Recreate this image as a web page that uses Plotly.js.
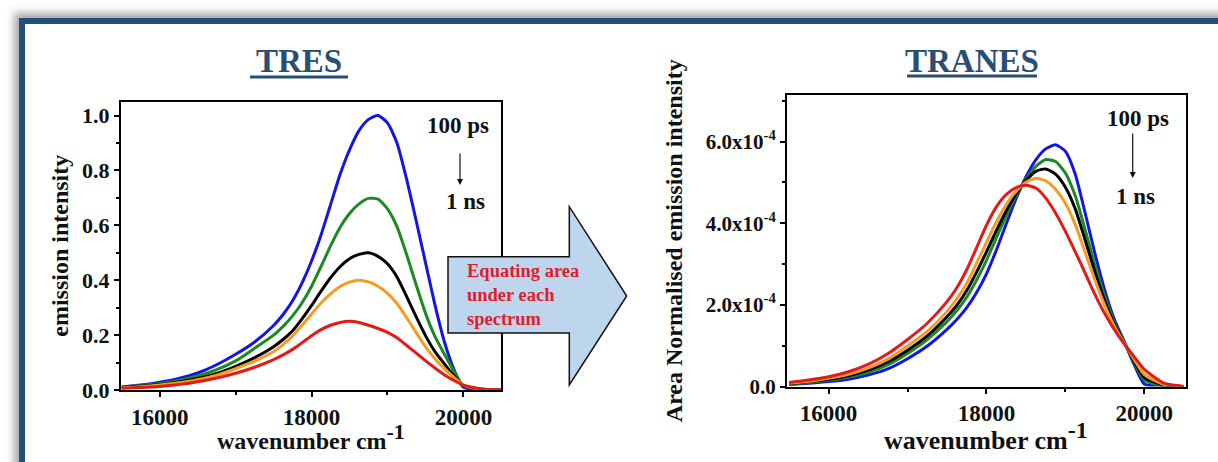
<!DOCTYPE html>
<html>
<head>
<meta charset="utf-8">
<script src="https://cdn.plot.ly/plotly-3.0.1.min.js"></script>
<style>
  html, body { margin: 0; padding: 0; background: #ffffff; }
  #wrap { position: relative; width: 1218px; height: 462px; overflow: hidden; background: #ffffff; }
  #frame {
    position: absolute; left: 19px; top: 18px; width: 1220px; height: 440px;
    border: 6px solid #22507a; background: #ffffff;
    box-shadow: -3px -3px 8px 2px rgba(80, 80, 80, 0.5);
  }
  #chart { position: absolute; left: 0; top: 0; width: 1218px; height: 462px; }
</style>
</head>
<body>
<div id="wrap">
  <div id="frame"></div>
  <div id="chart"></div>
</div>
<script>
// Wavenumber grid (cm^-1) shared by every spectrum, finer around the band maximum
const wavenumber = [15500, 15750, 16000, 16250, 16500, 16750, 17000, 17250, 17500, 17625,
                    17750, 17875, 18000, 18125, 18250, 18375, 18500, 18625, 18750, 18875,
                    19000, 19125, 19250, 19375, 19500, 19625, 19750, 19875, 20000, 20250, 20500];

// Time-resolved emission spectra (TRES), 100 ps -> 1 ns
const tres100ps = [0.011, 0.018, 0.028, 0.042, 0.062, 0.092, 0.130, 0.175, 0.235, 0.275, 0.325, 0.390, 0.470, 0.565, 0.675, 0.785,
                   0.875, 0.945, 0.986, 1.000, 0.973, 0.900, 0.770, 0.620, 0.465, 0.310, 0.175, 0.075, 0.010, 0, 0];
const tresT2    = [0.010, 0.016, 0.024, 0.035, 0.051, 0.074, 0.106, 0.152, 0.200, 0.232, 0.270, 0.318, 0.378, 0.450, 0.525, 0.592,
                   0.643, 0.678, 0.698, 0.695, 0.660, 0.595, 0.495, 0.385, 0.280, 0.195, 0.130, 0.068, 0.015, 0.002, 0];
const tresT3    = [0.009, 0.014, 0.020, 0.029, 0.042, 0.060, 0.086, 0.118, 0.158, 0.184, 0.216, 0.259, 0.308, 0.360, 0.409, 0.449,
                   0.478, 0.494, 0.500, 0.487, 0.460, 0.412, 0.342, 0.268, 0.198, 0.140, 0.095, 0.052, 0.016, 0.003, 0];
const tresT4    = [0.008, 0.012, 0.018, 0.026, 0.037, 0.054, 0.078, 0.105, 0.140, 0.165, 0.197, 0.236, 0.277, 0.317, 0.350, 0.377,
                   0.393, 0.400, 0.394, 0.378, 0.352, 0.315, 0.265, 0.210, 0.158, 0.114, 0.078, 0.046, 0.018, 0.003, 0];
const tres1ns   = [0.006, 0.009, 0.013, 0.020, 0.030, 0.044, 0.061, 0.083, 0.111, 0.128, 0.148, 0.172, 0.198, 0.220, 0.236, 0.246,
                   0.250, 0.246, 0.236, 0.224, 0.210, 0.190, 0.163, 0.135, 0.107, 0.080, 0.055, 0.035, 0.018, 0.004, 0];

// Time-resolved area-normalised emission spectra (TRANES)
const tranes100ps = [0.05e-4, 0.08e-4, 0.12e-4, 0.18e-4, 0.28e-4, 0.43e-4, 0.68e-4, 0.99e-4, 1.40e-4, 1.64e-4, 1.93e-4, 2.30e-4, 2.76e-4, 3.34e-4, 3.98e-4, 4.60e-4,
                     5.13e-4, 5.55e-4, 5.82e-4, 5.92e-4, 5.76e-4, 5.20e-4, 4.25e-4, 3.25e-4, 2.35e-4, 1.62e-4, 1.08e-4, 0.52e-4, 0.06e-4, 0, 0];
const tranesT2    = [0.06e-4, 0.10e-4, 0.15e-4, 0.23e-4, 0.35e-4, 0.53e-4, 0.81e-4, 1.15e-4, 1.59e-4, 1.86e-4, 2.19e-4, 2.61e-4, 3.09e-4, 3.64e-4, 4.18e-4, 4.68e-4,
                     5.07e-4, 5.39e-4, 5.56e-4, 5.51e-4, 5.23e-4, 4.67e-4, 3.84e-4, 2.97e-4, 2.19e-4, 1.55e-4, 1.07e-4, 0.58e-4, 0.16e-4, 0.02e-4, 0];
const tranesT3    = [0.07e-4, 0.12e-4, 0.17e-4, 0.26e-4, 0.40e-4, 0.60e-4, 0.89e-4, 1.24e-4, 1.71e-4, 1.99e-4, 2.35e-4, 2.80e-4, 3.30e-4, 3.82e-4, 4.30e-4, 4.72e-4,
                     5.04e-4, 5.27e-4, 5.33e-4, 5.20e-4, 4.88e-4, 4.35e-4, 3.59e-4, 2.80e-4, 2.09e-4, 1.51e-4, 1.06e-4, 0.61e-4, 0.22e-4, 0.04e-4, 0];
const tranesT4    = [0.08e-4, 0.13e-4, 0.20e-4, 0.30e-4, 0.45e-4, 0.67e-4, 0.99e-4, 1.35e-4, 1.84e-4, 2.15e-4, 2.53e-4, 3.02e-4, 3.53e-4, 4.03e-4, 4.45e-4, 4.78e-4,
                     5.00e-4, 5.10e-4, 5.04e-4, 4.83e-4, 4.49e-4, 3.97e-4, 3.29e-4, 2.60e-4, 1.98e-4, 1.46e-4, 1.05e-4, 0.65e-4, 0.29e-4, 0.05e-4, 0];
const tranes1ns   = [0.10e-4, 0.16e-4, 0.24e-4, 0.36e-4, 0.54e-4, 0.80e-4, 1.15e-4, 1.55e-4, 2.08e-4, 2.42e-4, 2.86e-4, 3.40e-4, 3.95e-4, 4.40e-4, 4.70e-4, 4.87e-4,
                     4.93e-4, 4.86e-4, 4.62e-4, 4.25e-4, 3.80e-4, 3.30e-4, 2.78e-4, 2.25e-4, 1.78e-4, 1.38e-4, 1.03e-4, 0.72e-4, 0.42e-4, 0.08e-4, 0];

// Axis tick labels
const tresTickVals = [0, 0.2, 0.4, 0.6, 0.8, 1.0];
const tresTickText = ['0.0', '0.2', '0.4', '0.6', '0.8', '1.0'];
const tranesTickVals = [0, 2e-4, 4e-4, 6e-4];
const tranesTickText = ['0.0', '2.0x10<sup>-4</sup>', '4.0x10<sup>-4</sup>', '6.0x10<sup>-4</sup>'];
const wnTickVals = [16000, 18000, 20000];
const wnTickText = ['16000', '18000', '20000'];

const seriesColors = ['#1414e6', '#1b8a22', '#000000', '#f59a22', '#e31a1a'];
const tresSeries = [tres100ps, tresT2, tresT3, tresT4, tres1ns];
const tranesSeries = [tranes100ps, tranesT2, tranesT3, tranesT4, tranes1ns];

const W = 1218, H = 462;
const px = v => v / W;            // pixel column -> paper x
const py = v => 1 - v / H;        // pixel row -> paper y
const SERIF = 'Liberation Serif, Times New Roman, serif';

const traces = [];
tresSeries.forEach((ys, i) => traces.push({
  x: wavenumber, y: ys, xaxis: 'x', yaxis: 'y', mode: 'lines', hoverinfo: 'skip',
  line: { color: seriesColors[i], width: 3, shape: 'spline', smoothing: 0.6 }
}));
tranesSeries.forEach((ys, i) => traces.push({
  x: wavenumber, y: ys, xaxis: 'x2', yaxis: 'y2', mode: 'lines', hoverinfo: 'skip',
  line: { color: seriesColors[i], width: 3, shape: 'spline', smoothing: 0.6 }
}));

const tickFont = { family: SERIF, size: 23, color: '#111', weight: 700 };
const titleFont = { family: SERIF, size: 24, color: '#111', weight: 700 };
const bold = (size, color) => ({ family: SERIF, size: size, color: color || '#111', weight: 700 });

function xAxis(anchor, domain, range) {
  return {
    anchor: anchor, domain: domain, range: range,
    tickmode: 'array', tickvals: wnTickVals, ticktext: wnTickText,
    showline: true, mirror: true, linewidth: 2, linecolor: '#000',
    ticks: 'outside', ticklen: 5, tickwidth: 2, tickcolor: '#000',
    minor: { dtick: 1000, tick0: 16000, ticks: 'outside', ticklen: 3, tickwidth: 2, tickcolor: '#000' },
    showgrid: false, zeroline: false, tickfont: tickFont, automargin: false
  };
}
function yAxis(anchor, domain, range, vals, text, minorStep, title, standoff, fontSize) {
  return {
    anchor: anchor, domain: domain, range: range, tickmode: 'array', tickvals: vals, ticktext: text,
    showline: true, mirror: true, linewidth: 2, linecolor: '#000',
    ticks: 'outside', ticklen: 5, tickwidth: 2, tickcolor: '#000',
    minor: { dtick: minorStep, tick0: 0, ticks: 'outside', ticklen: 3, tickwidth: 2, tickcolor: '#000' },
    showgrid: false, zeroline: false, tickfont: bold(fontSize), automargin: false,
    title: { text: title, font: titleFont, standoff: standoff }
  };
}

const layout = {
  width: W, height: H, margin: { l: 0, r: 0, t: 0, b: 0 },
  paper_bgcolor: 'rgba(0,0,0,0)', plot_bgcolor: '#ffffff', showlegend: false,
  font: { family: SERIF, color: '#111' },
  xaxis: xAxis('y', [px(121), px(501)], [15490, 20495]),
  yaxis: yAxis('x', [py(390), py(101.5)], [0, 1.051], tresTickVals, tresTickText, 0.1, 'emission intensity', 7, 22),
  xaxis2: xAxis('y2', [px(787), px(1186)], [15473, 20528]),
  yaxis2: yAxis('x2', [py(386.5), py(95)], [0, 7.14e-4], tranesTickVals, tranesTickText, 1e-4, 'Area Normalised emission intensity', 16, 21),
  shapes: [
    // block arrow between the two panels
    {
      type: 'path', xref: 'paper', yref: 'paper', layer: 'above',
      path: 'M' + px(448) + ',' + py(256.7) + ' L' + px(569.3) + ',' + py(256.7) +
            ' L' + px(569.3) + ',' + py(206.7) + ' L' + px(626.7) + ',' + py(296) +
            ' L' + px(569.3) + ',' + py(385) + ' L' + px(569.3) + ',' + py(333) +
            ' L' + px(448) + ',' + py(333) + ' Z',
      fillcolor: '#bed6ed', line: { color: '#111', width: 1.5 }
    },
    // title underlines
    { type: 'line', xref: 'paper', yref: 'paper', x0: px(250), x1: px(348), y0: py(77), y1: py(77),
      line: { color: '#2a4e72', width: 3 } },
    { type: 'line', xref: 'paper', yref: 'paper', x0: px(907), x1: px(1037), y0: py(76), y1: py(76),
      line: { color: '#2a4e72', width: 3 } }
  ],
  annotations: [
    { text: 'TRES', xref: 'paper', yref: 'paper', x: px(299), y: py(61), showarrow: false,
      xanchor: 'center', yanchor: 'middle', font: bold(33, '#2a4e72') },
    { text: 'TRANES', xref: 'paper', yref: 'paper', x: px(972), y: py(61), showarrow: false,
      xanchor: 'center', yanchor: 'middle', font: bold(33, '#2a4e72') },
    // x-axis titles
    { text: 'wavenumber cm<sup><span style="font-size:22px">-1</span></sup>', xref: 'paper', yref: 'paper',
      x: px(311), y: py(456), showarrow: false, xanchor: 'center', yanchor: 'bottom', font: bold(24) },
    { text: 'wavenumber cm<sup><span style="font-size:24px">-1</span></sup>', xref: 'paper', yref: 'paper',
      x: px(986), y: py(457), showarrow: false, xanchor: 'center', yanchor: 'bottom', font: bold(26) },
    { text: 'Equating area<br>under each<br>spectrum', xref: 'paper', yref: 'paper', x: px(465), y: py(295),
      showarrow: false, xanchor: 'left', yanchor: 'middle', align: 'left', font: bold(18.5, '#e11d2b') },
    // time-direction labels, left panel
    { text: '100 ps', xref: 'paper', yref: 'paper', x: px(457.5), y: py(125), showarrow: false,
      xanchor: 'center', yanchor: 'middle', font: bold(23) },
    { text: '', xref: 'paper', yref: 'paper', x: px(460), y: py(185), ax: 0, ay: -33, showarrow: true,
      arrowhead: 2, arrowsize: 1, arrowwidth: 1.2, arrowcolor: '#111' },
    { text: '1 ns', xref: 'paper', yref: 'paper', x: px(465), y: py(201), showarrow: false,
      xanchor: 'center', yanchor: 'middle', font: bold(23) },
    // time-direction labels, right panel
    { text: '100 ps', xref: 'paper', yref: 'paper', x: px(1138), y: py(118), showarrow: false,
      xanchor: 'center', yanchor: 'middle', font: bold(23) },
    { text: '', xref: 'paper', yref: 'paper', x: px(1132.7), y: py(178), ax: 0, ay: -46, showarrow: true,
      arrowhead: 2, arrowsize: 1, arrowwidth: 1.2, arrowcolor: '#111' },
    { text: '1 ns', xref: 'paper', yref: 'paper', x: px(1135.5), y: py(196), showarrow: false,
      xanchor: 'center', yanchor: 'middle', font: bold(23) }
  ]
};

Plotly.newPlot('chart', traces, layout, { displayModeBar: false, staticPlot: true });
</script>
</body>
</html>
